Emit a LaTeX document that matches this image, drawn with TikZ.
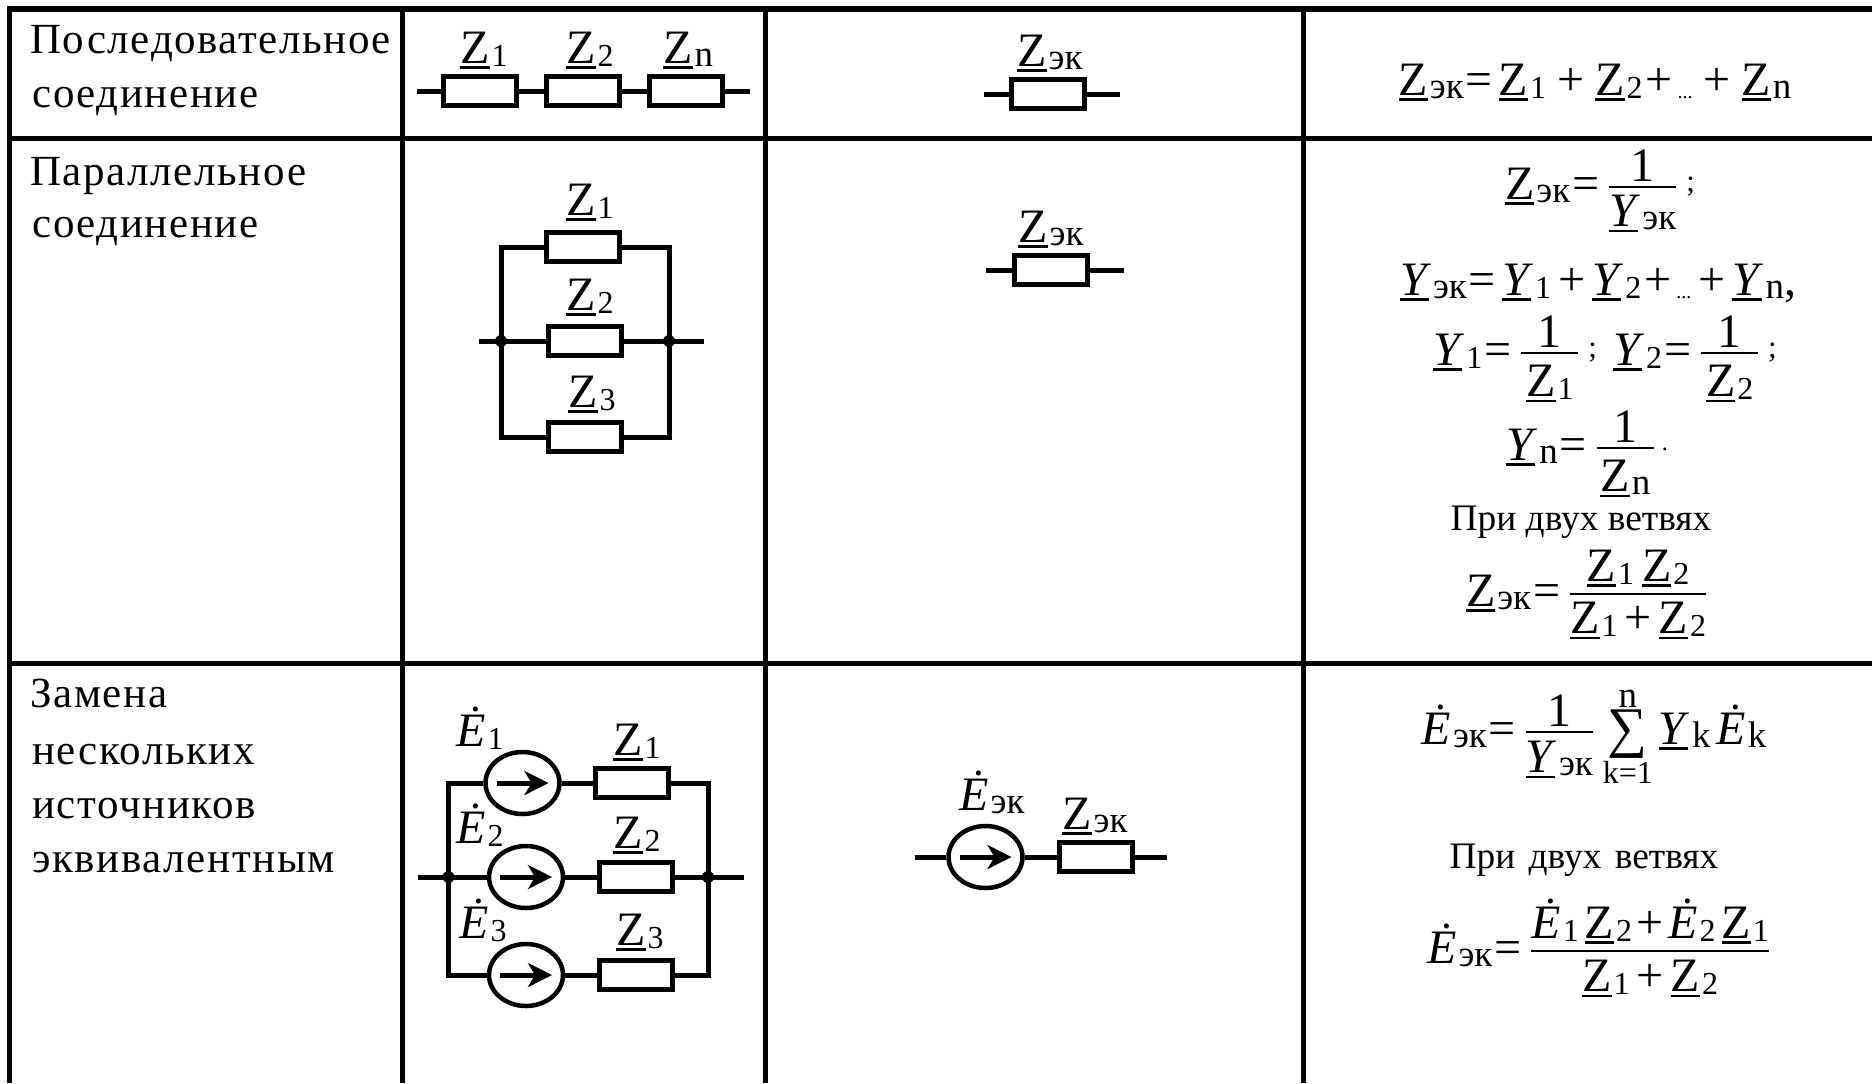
\documentclass[tikz,border=0pt]{standalone}
\usepackage{fontspec}
\setmainfont{Liberation Serif}
\newfontfamily\lblfont[LetterSpace=3.7]{Liberation Serif}
\usetikzlibrary{shapes.geometric,arrows.meta,calc}
\newcommand\UL[1]{{\setbox0=\hbox{#1}\rlap{\rule[-0.12em]{\wd0}{0.055em}}\box0}}
\newcommand\Zb{\UL{Z}}
\newcommand\Yb{\UL{\textit{Y\kern0.05em}}\kern1pt}
\newcommand\Eb{\textit{Ė}}
\newcommand\dg[1]{\kern1pt\raisebox{-1.5pt}{\fontsize{16}{16}\selectfont #1}}
\newcommand\lt[1]{\kern1pt\raisebox{-1.5pt}{\fontsize{18.5}{18.5}\selectfont #1}}
\newcommand\dts{\raisebox{-1.5pt}{\fontsize{10}{10}\selectfont ...}}
\newcommand\pl{\kern3.5pt+\kern3.5pt}
\newcommand\pL{\kern5.5pt+\kern5.5pt}
\newcommand\pc{\kern1.5pt+\kern2.5pt}
\newcommand\eqq{\kern1pt=\kern3pt}
\newcommand\semi{\kern3pt\raisebox{3.8pt}{\fontsize{15.5}{15.5}\selectfont ;}}
% \FR[gap under the bar]{gap over the bar}{numerator}{denominator}
\newcommand\FR[4][3.5pt]{{\setbox1\hbox{#3}\setbox2\hbox{#4}%
 \dimen0=\ifdim\wd1>\wd2 \wd1\else\wd2\fi\relax
 \ifdim\dimen0<28.5pt \dimen0=28.5pt\relax\fi
 \kern2pt\rlap{\hbox to\dimen0{\hfil\raise\dimexpr6.5pt+#2+\dp1\relax\box1\hfil}}%
 \rlap{\raise5.5pt\hbox{\vrule width\dimen0 height 1pt depth 0pt}}%
 \hbox to\dimen0{\hfil\lower\dimexpr\ht2+#1-5.5pt\relax\box2\hfil}\kern2pt}}
\newcommand\SUM{{\setbox1\hbox{\fontsize{28}{28}\selectfont ∑}\setbox2\hbox{\fontsize{16}{16}\selectfont k=1}%
 \dimen0=\wd2\relax
 \rlap{\hbox to\dimen0{\hfil\lower1pt\box1\hfil}}%
 \rlap{\hbox to\dimen0{\hfil\raise18.5pt\hbox{\fontsize{18.5}{18.5}\selectfont n}\hfil}}%
 \hbox to\dimen0{\hfil\lower19.5pt\box2\hfil}}}
\tikzset{
 x=0.5pt,y=-0.5pt,
 gridline/.style={line width=2.5pt,black},
 wire/.style={line width=2.5pt,black,line join=miter},
 res/.style={draw,rectangle,minimum width=36.5pt,minimum height=14.5pt,inner sep=0pt,line width=2.5pt,fill=white},
 src/.style={draw,ellipse,minimum width=37pt,minimum height=31pt,inner sep=0pt,line width=2.25pt,fill=white},
 srcarrow/.style={line width=2.5pt,-{Stealth[length=12pt,width=12pt,inset=3.5pt]}},
 dotn/.style={circle,fill=black,minimum size=6pt,inner sep=0pt},
 lbl/.style={inner sep=0pt,anchor=base west,align=left,font=\fontsize{21.5}{26}\lblfont},
 zl/.style={inner sep=0pt,anchor=base west,font=\fontsize{24}{29}\selectfont},
 eq/.style={inner sep=0pt,anchor=base,font=\fontsize{24}{29}\selectfont},
 captext/.style={inner sep=0pt,anchor=base,font=\fontsize{18.7}{22}\selectfont},
}
\begin{document}
\begin{tikzpicture}
\useasboundingbox (0,0) rectangle (1872,1083);
\fill[white] (0,0) rectangle (1872,1083);
% table
\draw[gridline,line width=3pt] (7,9) -- (1872,9);
\draw[gridline] (7,138) -- (1872,138);
\draw[gridline] (7,663) -- (1872,663);
\draw[gridline] (9.5,7) -- (9.5,1083);
\draw[gridline] (402,7) -- (402,1083);
\draw[gridline] (765,7) -- (765,1083);
\draw[gridline] (1303,7) -- (1303,1083);
% first column
\node[lbl] (t1a) at (30,53) {Последовательное};
\node[lbl] (t1b) at (32,107) {соединение};
\node[lbl] (t2a) at (30,185) {Параллельное};
\node[lbl] (t2b) at (32,237) {соединение};
\node[lbl] (t3a) at (30,707) {Замена};
\node[lbl] (t3b) at (32,764) {нескольких};
\node[lbl] (t3c) at (32,818) {источников};
\node[lbl] (t3d) at (32,872) {эквивалентным};
% series
\node[res] (sr1) at (480,91) {};
\node[res] (sr2) at (582.5,91) {};
\node[res] (sr3) at (686,91) {};
\coordinate (sa) at (417,91);
\coordinate (sb) at (750,91);
\draw[wire] (sa) -- (sr1.west) (sr1.east) -- (sr2.west) (sr2.east) -- (sr3.west) (sr3.east) -- (sb);
\node[zl] (sz1) at (460,63) {\Zb\dg{1}};
\node[zl] (sz2) at (566,63) {\Zb\dg{2}};
\node[zl] (sz3) at (663,63) {\Zb\lt{n}};
% series equivalent
\node[res] (er) at (1048,94) {};
\coordinate (ea) at (984,94);
\coordinate (eb) at (1120,94);
\draw[wire] (ea) -- (er.west) (er.east) -- (eb);
\node[zl] (ez) at (1017,66) {\Zb\lt{эк}};
% parallel
\node[res] (pr1) at (582.5,247) {};
\node[res] (pr2) at (585,341) {};
\node[res] (pr3) at (585,437) {};
\node[dotn] (jl) at (501,341) {};
\node[dotn] (jr) at (669,341) {};
\coordinate (pa) at (479,341);
\coordinate (pb) at (704,341);
\draw[wire] (pa) -- (pr2.west) (pr2.east) -- (pb);
\draw[wire] (pr1.west) -| (jl.center) |- (pr3.west);
\draw[wire] (pr1.east) -| (jr.center) |- (pr3.east);
\node[zl] (pz1) at (566,215) {\Zb\dg{1}};
\node[zl] (pz2) at (566,310) {\Zb\dg{2}};
\node[zl] (pz3) at (568,407) {\Zb\dg{3}};
% parallel equivalent
\node[res] (qr) at (1051,270) {};
\coordinate (qa) at (986,270);
\coordinate (qb) at (1124,270);
\draw[wire] (qa) -- (qr.west) (qr.east) -- (qb);
\node[zl] (qz) at (1018,242) {\Zb\lt{эк}};
% sources in parallel
\node[src] (e1) at (522.5,783) {};
\node[src] (e2) at (526,877) {};
\node[src] (e3) at (526,975) {};
\node[res] (gr1) at (632,783) {};
\node[res] (gr2) at (635.5,877) {};
\node[res] (gr3) at (635.5,975) {};
\node[dotn] (kl) at (448.5,877) {};
\node[dotn] (kr) at (708,877) {};
\coordinate (ga) at (418,877);
\coordinate (gb) at (744,877);
\draw[wire] (ga) -- (e2.west) (e2.east) -- (gr2.west) (gr2.east) -- (gb);
\draw[wire] (e1.west) -| (kl.center) |- (e3.west);
\draw[wire] (gr1.east) -| (kr.center) |- (gr3.east);
\draw[wire] (e1.east) -- (gr1.west) (e3.east) -- (gr3.west);
\draw[srcarrow] ([xshift=-13pt]e1.center) -- ([xshift=13pt]e1.center);
\draw[srcarrow] ([xshift=-13pt]e2.center) -- ([xshift=13pt]e2.center);
\draw[srcarrow] ([xshift=-13pt]e3.center) -- ([xshift=13pt]e3.center);
\node[zl] (ge1) at (456,746) {\Eb\dg{1}};
\node[zl] (ge2) at (456,843) {\Eb\dg{2}};
\node[zl] (ge3) at (459,938) {\Eb\dg{3}};
\node[zl] (gz1) at (613,755) {\Zb\dg{1}};
\node[zl] (gz2) at (613,848) {\Zb\dg{2}};
\node[zl] (gz3) at (616,945) {\Zb\dg{3}};
% source equivalent
\node[src] (e0) at (985.5,857) {};
\node[res] (hr) at (1096,857) {};
\coordinate (ha) at (915,857);
\coordinate (hb) at (1167,857);
\draw[wire] (ha) -- (e0.west) (e0.east) -- (hr.west) (hr.east) -- (hb);
\draw[srcarrow] ([xshift=-13pt]e0.center) -- ([xshift=13pt]e0.center);
\node[zl] (he) at (959,810) {\Eb\lt{эк}};
\node[zl] (hz) at (1062,829) {\Zb\lt{эк}};
% formulas
\node[eq] (f0) at (1595,95) {\Zb\lt{эк}\eqq\Zb\dg{1}\pL\Zb\dg{2}\pc\dts\pL\Zb\lt{n}};
\node[eq] (f1) at (1600,199) {\Zb\lt{эк}\eqq\FR{2.5pt}{1}{\Yb\lt{эк}}\semi};
\node[eq] (f2) at (1598,295) {\Yb\lt{эк}\eqq\Yb\dg{1}\pl\Yb\dg{2}\pc\dts\pl\Yb\lt{n},};
\node[eq] (f3) at (1605,365) {\Yb\dg{1}\eqq\FR[5.5pt]{2.5pt}{1}{\Zb\dg{1}}\semi\kern8pt\Yb\dg{2}\eqq\FR[5.5pt]{2.5pt}{1}{\Zb\dg{2}}\semi};
\node[eq] (f4) at (1587,460) {\Yb\lt{n}\eqq\FR[5.5pt]{2.5pt}{1}{\Zb\lt{n}}\kern2pt\raisebox{5pt}{\fontsize{12}{12}\selectfont .}};
\node[captext] (c1) at (1581,530) {При двух ветвях};
\node[eq] (f5) at (1588,606) {\Zb\lt{эк}\eqq\FR{3pt}{\Zb\dg{1}\kern4pt\Zb\dg{2}}{\Zb\dg{1}\pl\Zb\dg{2}}};
\node[eq] (f6) at (1594,744) {\Eb\lt{эк}\eqq\FR[4pt]{2.5pt}{1}{\Yb\lt{эк}}\kern3pt\SUM\kern3pt\Yb\lt{k}\kern3pt\Eb\lt{k}};
\node[captext] (c2) at (1584,868) {При\kern2pt\ двух\kern2pt\ ветвях};
\node[eq] (f7) at (1600,963) {\Eb\lt{эк}\eqq\FR[4pt]{3pt}{\Eb\dg{1}\kern3pt\Zb\dg{2}\kern0.5pt\pc\Eb\dg{2}\kern3pt\Zb\dg{1}}{\Zb\dg{1}\pl\Zb\dg{2}}};
\end{tikzpicture}
\end{document}
